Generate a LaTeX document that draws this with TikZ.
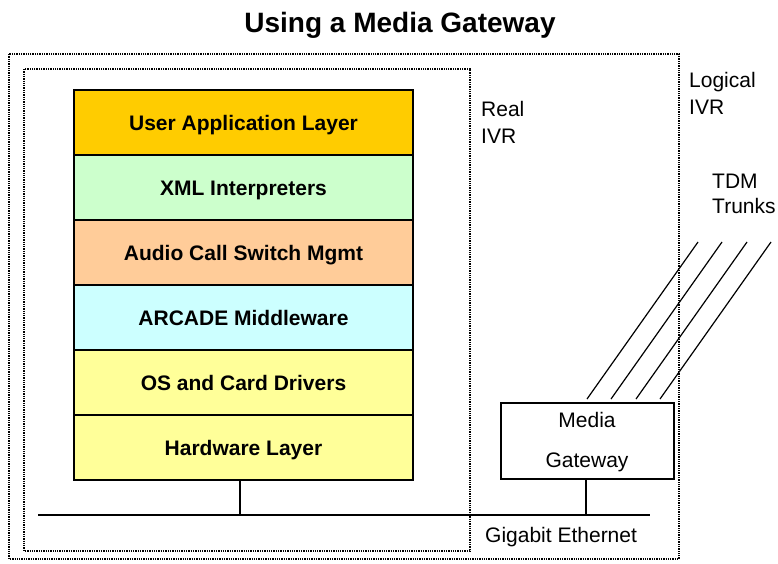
\documentclass[tikz,border=0pt]{standalone}
\usepackage{fontspec}
\setmainfont{Liberation Sans}
\begin{document}
\begin{tikzpicture}[x=1pt,y=-1pt,
  txt/.style={font=\fontsize{21}{25}\selectfont, inner sep=0pt},
  layer/.style={draw=black, line width=1.6pt, minimum width=339pt, minimum height=65pt,
    inner sep=0pt, text height=15pt, text depth=0pt,
    font=\fontsize{21}{25}\selectfont\bfseries},
  frame/.style={line width=1.3pt, dash pattern=on 1.3pt off 1pt},
  wire/.style={line width=1.4pt}]
\useasboundingbox (0,0) rectangle (778,563);
\definecolor{cApp}{HTML}{FFCC00}
\definecolor{cXml}{HTML}{CCFFCC}
\definecolor{cAud}{HTML}{FFCC99}
\definecolor{cMid}{HTML}{CCFFFF}
\definecolor{cDrv}{HTML}{FFFF99}

% title
\node[inner sep=0pt, anchor=base, font=\fontsize{28}{32}\selectfont\bfseries] (title) at (400,32) {Using a Media Gateway};

% logical and real IVR boundaries
\draw[frame] (9,54) rectangle (679,559);
\draw[frame] (24,69) rectangle (470,551);

% software stack
\node[layer, fill=cApp] (app) at (243.5,122.5) {User Application Layer};
\node[layer, fill=cXml] (xml) at (243.5,187.5) {XML Interpreters};
\node[layer, fill=cAud] (aud) at (243.5,252.5) {Audio Call Switch Mgmt};
\node[layer, fill=cMid] (mid) at (243.5,317.5) {ARCADE Middleware};
\node[layer, fill=cDrv] (drv) at (243.5,382.5) {OS and Card Drivers};
\node[layer, fill=cDrv] (hw)  at (243.5,447.5) {Hardware Layer};

% media gateway
\node[draw=black, line width=1.4pt, minimum width=173pt, minimum height=76pt, inner sep=0pt] (gw) at (587.5,441) {};
\node[txt, anchor=base] (gw1) at (587,427.5) {Media};
\node[txt, anchor=base] (gw2) at (587,467.5) {Gateway};

% ethernet backbone
\coordinate (ethL) at (38,515);
\coordinate (ethR) at (650,515);
\draw[wire] (ethL) -- (ethR);
\draw[wire] ([xshift=-3.5pt]hw.south) -- ([xshift=-3.5pt]hw.south |- ethL);
\draw[wire] ([xshift=-1.5pt]gw.south) -- ([xshift=-1.5pt]gw.south |- ethL);

% TDM trunks
\foreach \i/\d in {1/0,2/24,3/49,4/73} {
  \coordinate (tb\i) at (587+\d,399);
  \coordinate (tt\i) at (697+\d+1,242);
  \draw[line width=1.2pt] (tb\i) -- (tt\i);
}

% labels
\node[txt, anchor=base west] (real1) at (481,116.5) {Real};
\node[txt, anchor=base west] (real2) at (481,143.5) {IVR};
\node[txt, anchor=base west] (log1) at (689,87.5) {Logical};
\node[txt, anchor=base west] (log2) at (689,114.5) {IVR};
\node[txt, anchor=base west] (tdm1) at (712,188) {TDM};
\node[txt, anchor=base west] (tdm2) at (712,213) {Trunks};
\node[txt, anchor=base west] (eth) at (485,542) {Gigabit Ethernet};
\end{tikzpicture}
\end{document}
